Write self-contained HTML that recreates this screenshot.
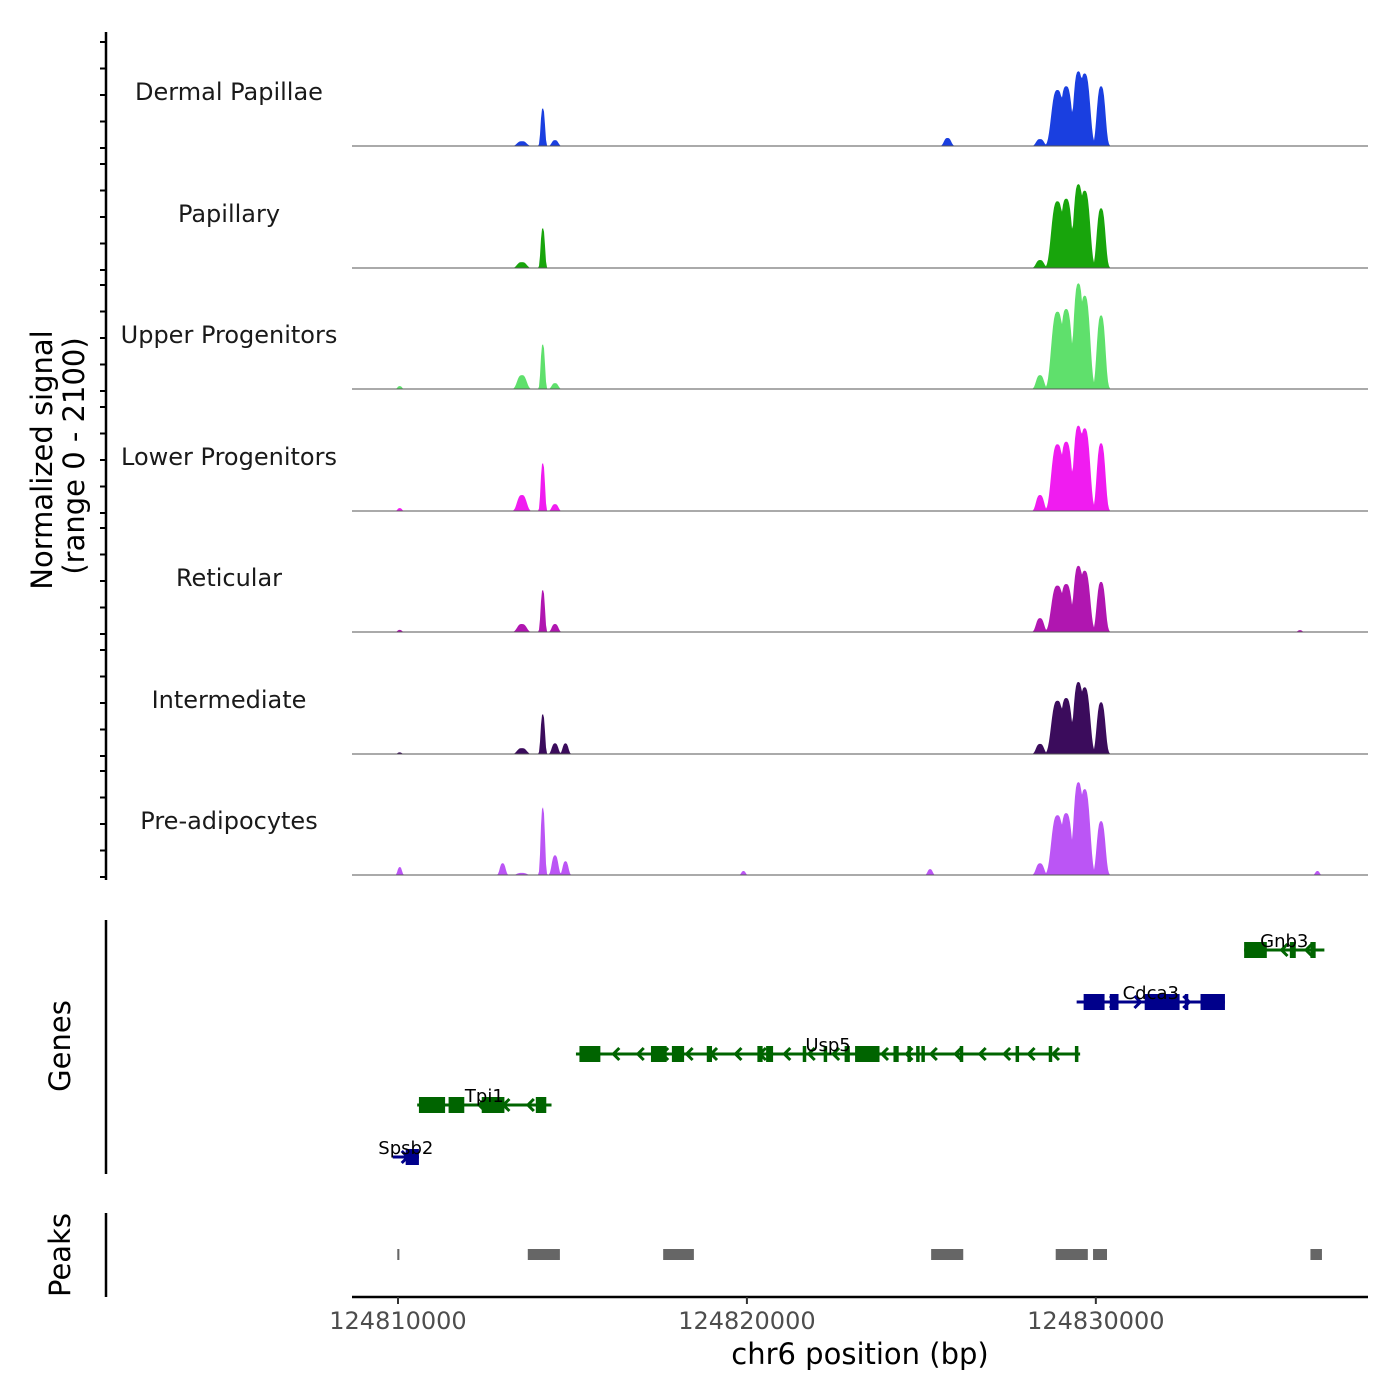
<!DOCTYPE html>
<html><head><meta charset="utf-8"><style>
body{margin:0;background:#fff}
svg{display:block;font-family:"DejaVu Sans","Liberation Sans",sans-serif}
</style></head><body>
<svg id="c" width="1400" height="1400" viewBox="0 0 1400 1400"></svg>
<script>
const NS="http://www.w3.org/2000/svg";
const svg=document.getElementById('c');
// ---- data ----
const trackNames=["Dermal Papillae","Papillary","Upper Progenitors","Lower Progenitors","Reticular","Intermediate","Pre-adipocytes"];
const trackColors=["#1a3fe0","#18a50c","#5fe06c","#f01cf0","#b016b0","#3b0c5c","#bb55f5"];
const peakCenters=[124810050,124813000,124813550,124814150,124814500,124814800,124819900,124825250,124825750,124828400,124828900,124829150,124829500,124829680,124830150,124835850,124836350];
const peakWidths=[60,80,130,60,90,80,60,70,100,110,170,160,140,150,120,60,60];
const trackHeights=[
 [0,0,90,710,110,0,0,0,150,130,1050,1120,1400,1360,1120,0,0],
 [0,0,110,750,0,0,0,0,0,150,1250,1300,1570,1450,1120,0,0],
 [55,0,260,840,110,0,0,0,0,260,1450,1500,1980,1750,1380,0,0],
 [55,0,300,900,130,0,0,0,0,300,1250,1300,1600,1550,1270,0,0],
 [40,0,150,790,150,0,0,0,0,260,870,900,1240,1150,940,35,0],
 [30,0,110,750,200,200,0,0,0,190,1000,1050,1350,1250,970,0,0],
 [150,220,40,1270,370,260,75,110,0,220,1120,1160,1740,1610,1010,0,75]
];
const xTicks=[124810000,124820000,124830000];
const genes=[
 {name:"Gnb3",start:124834250,end:124836550,strand:-1,row:0,color:"#006400",exons:[[124834250,124834900],[124835560,124835730],[124836150,124836300]]},
 {name:"Cdca3",start:124829450,end:124833700,strand:1,row:1,color:"#00008b",exons:[[124829650,124830250],[124830400,124830650],[124831400,124832400],[124832550,124832650],[124833000,124833700]]},
 {name:"Usp5",start:124815100,end:124829550,strand:-1,row:2,color:"#006400",exons:[[124815200,124815800],[124817250,124817700],[124817850,124818200],[124818850,124819000],[124820300,124820450],[124820550,124820750],[124821600,124821700],[124822200,124822300],[124822800,124822950],[124823100,124823800],[124824200,124824350],[124824600,124824700],[124824850,124824950],[124825000,124825100],[124826100,124826200],[124827700,124827800],[124828650,124828750],[124829400,124829500]]},
 {name:"Tpi1",start:124810550,end:124814400,strand:-1,row:3,color:"#006400",exons:[[124810600,124811350],[124811450,124811900],[124812400,124813050],[124813950,124814250]]},
 {name:"Spsb2",start:124809850,end:124810600,strand:1,row:4,color:"#00008b",exons:[[124810220,124810600]]}
];
const peakRegions=[[124809980,124810040],[124813720,124814640],[124817600,124818480],[124825280,124826200],[124828850,124829770],[124829920,124830320],[124836150,124836480]];
// ---- scales ----
const X0=352,X1=1368,B0=124808682,B1=124837800;
const xs=b=>X0+(b-B0)/(B1-B0)*(X1-X0);
const trackBase=[146,268,389,511,632,754,875];
const ys=(v,i)=>trackBase[i]-v/2100*112;
function el(t,a,p){const e=document.createElementNS(NS,t);for(const k in a)e.setAttribute(k,a[k]);(p||svg).appendChild(e);return e;}
function txt(s,a,p){const e=el('text',a,p);e.textContent=s;return e;}
// ---- signal tracks ----
trackNames.forEach((nm,i)=>{
  let d=`M${X0},${trackBase[i]}`;
  for(let px=X0;px<=X1;px+=1){
    const b=B0+(px-X0)/(X1-X0)*(B1-B0);
    let v=0;
    peakCenters.forEach((c,k)=>{const z=(b-c)/peakWidths[k];const h=trackHeights[i][k];if(h>0)v=Math.max(v,h*Math.exp(-Math.pow(Math.abs(z),3)/2));});
    d+=` L${px},${ys(v,i).toFixed(1)}`;
  }
  d+=` L${X1},${trackBase[i]} Z`;
  const p=el('path',{d,fill:trackColors[i],stroke:"none"});
  
  
  const l=el('line',{x1:X0,x2:X1,y1:trackBase[i],y2:trackBase[i],stroke:"#555","stroke-width":1});
  
  
  const t=txt(nm,{x:229,y:trackBase[i]-46,"text-anchor":"middle","font-size":24,fill:"#1a1a1a"});
  
  
});
el('line',{x1:106,x2:106,y1:32,y2:880,stroke:"#000","stroke-width":2.5,});
for(let i=0;i<7;i++){for(let j=0;j<5;j++){const y=trackBase[i]-j*26.5+2;if(y<32)continue;el('line',{x1:100,x2:106,y1:y,y2:y,stroke:"#000","stroke-width":2});}}
txt("Normalized signal",{x:52,y:460,"text-anchor":"middle","font-size":29,transform:"rotate(-90 52 460)",});
txt("(range 0 - 2100)",{x:84,y:456,"text-anchor":"middle","font-size":29,transform:"rotate(-90 84 456)",});
// ---- genes ----
el('line',{x1:106,x2:106,y1:920,y2:1174,stroke:"#000","stroke-width":2.5,});
txt("Genes",{x:70,y:1046,"text-anchor":"middle","font-size":29,transform:"rotate(-90 70 1046)",});
const rowY=[950,1002,1054,1105,1157];
genes.forEach(g=>{
  const y=rowY[g.row];
  const grp=el('g',{});
  
  
  el('line',{x1:xs(g.start),x2:xs(g.end),y1:y,y2:y,stroke:g.color,"stroke-width":3},grp);
  for(let b=g.start+400;b<g.end-200;b+=700){
    const x=xs(b),s=g.strand;
    const bx=x-5*s, tx=x+1*s;
    el('path',{d:`M${bx},${y-6} L${tx},${y} L${bx},${y+6}`,fill:"none",stroke:g.color,"stroke-width":3},grp);
  }
  g.exons.forEach(e=>el('rect',{x:xs(e[0]),y:y-8,width:Math.max(3,xs(e[1])-xs(e[0])),height:16,fill:g.color},grp));
  txt(g.name,{x:(xs(g.start)+xs(g.end))/2,y:y-3,"text-anchor":"middle","font-size":18,fill:"#000"},grp);
});
// ---- peaks ----
el('line',{x1:106,x2:106,y1:1213,y2:1297,stroke:"#000","stroke-width":2.5,});
txt("Peaks",{x:70,y:1255,"text-anchor":"middle","font-size":29,transform:"rotate(-90 70 1255)",});
peakRegions.forEach(r=>{
  const rc=el('rect',{x:xs(r[0]),y:1249,width:Math.max(2,xs(r[1])-xs(r[0])),height:11,fill:"#666"});
  
  
});
// ---- x axis ----
el('line',{x1:X0,x2:X1,y1:1297,y2:1297,stroke:"#000","stroke-width":2.5,});
xTicks.forEach(t=>{
  const x=xs(t);
  el('line',{x1:x,x2:x,y1:1297,y2:1304,stroke:"#333","stroke-width":2});
  const l=txt(String(t),{x,y:1329,"text-anchor":"middle","font-size":24,fill:"#4d4d4d"});
  
  
});
txt("chr6 position (bp)",{x:860,y:1364,"text-anchor":"middle","font-size":29,});
</script>
</body></html>
